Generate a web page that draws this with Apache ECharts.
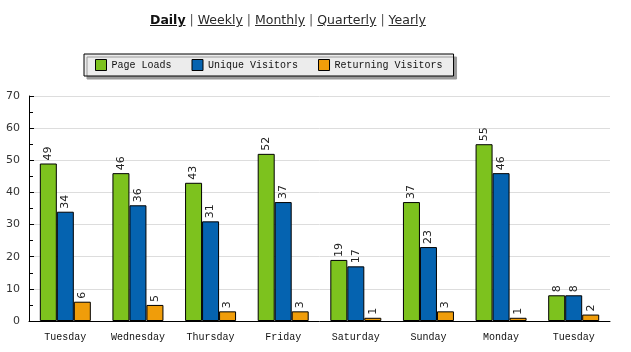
<!DOCTYPE html>
<html>
<head>
<meta charset="utf-8">
<script src="https://cdn.jsdelivr.net/npm/echarts@6/dist/echarts.min.js"></script>
<style>
  html, body { margin: 0; padding: 0; background: #fff; }
  #nav {
    position: absolute; left: 150px; top: 12px;
    font-family: "DejaVu Sans", Verdana, sans-serif; font-size: 12.5px; color: #555;
    white-space: nowrap;
  }
  #nav a { color: #2a2a2a; text-decoration: underline; }
  #nav a.on { font-weight: bold; color: #111; }
  #chart { position: absolute; left: 0; top: 0; width: 631px; height: 352px; }
</style>
</head>
<body>
<div id="chart"></div>
<div id="nav"><a class="on" href="#">Daily</a> | <a href="#">Weekly</a> | <a href="#">Monthly</a> | <a href="#">Quarterly</a> | <a href="#">Yearly</a></div>
<script>
var days = ["Tuesday", "Wednesday", "Thursday", "Friday", "Saturday", "Sunday", "Monday", "Tuesday"]
var pageLoads = [49, 46, 43, 52, 19, 37, 55, 8]
var uniqueVisitors = [34, 36, 31, 37, 17, 23, 46, 8]
var returningVisitors = [6, 5, 3, 3, 1, 3, 1, 2]

var mono = "Liberation Mono"
var sans = "DejaVu Sans"

var chart = echarts.init(document.getElementById("chart"))

// rotated value label above each bar
var barLabel = {
  show: true,
  position: "top",
  rotate: 90,
  align: "left",
  verticalAlign: "middle",
  distance: 3,
  fontFamily: sans,
  fontSize: 11,
  color: "#222"
}

function makeSeries(name, data, color) {
  return {
    name: name,
    type: "bar",
    data: data,
    barWidth: 17,
    barGap: "0%",
    itemStyle: { color: color, borderColor: "#000", borderWidth: 1 },
    label: barLabel,
    emphasis: { disabled: true }
  }
}

var option = {
  animation: false,
  legend: {
    left: 84,
    top: 54,
    itemWidth: 11,
    itemHeight: 11,
    itemGap: 20,
    padding: [5, 11, 5, 11],
    backgroundColor: "#ececec",
    borderColor: "#000",
    borderWidth: 1,
    shadowColor: "#9a9a9a",
    shadowBlur: 0,
    shadowOffsetX: 3,
    shadowOffsetY: 3,
    icon: "rect",
    itemStyle: { borderColor: "#000", borderWidth: 1 },
    textStyle: { fontFamily: mono, fontSize: 10, color: "#111" },
    data: ["Page Loads", "Unique Visitors", "Returning Visitors"]
  },
  grid: { left: 29, right: 21, top: 96, bottom: 31 },
  xAxis: {
    type: "category",
    data: days,
    axisLine: { lineStyle: { color: "#000", width: 1 } },
    axisTick: { inside: true, length: 5, lineStyle: { color: "#000" } },
    axisLabel: { fontFamily: mono, fontSize: 10, color: "#111", margin: 11 }
  },
  yAxis: {
    type: "value",
    min: 0,
    max: 70,
    interval: 10,
    axisLine: { show: true, lineStyle: { color: "#000", width: 1 } },
    axisTick: { show: true, inside: true, length: 5, lineStyle: { color: "#000" } },
    minorTick: { show: true, splitNumber: 2, length: 4, lineStyle: { color: "#000" } },
    splitLine: { lineStyle: { color: "#dddddd" } },
    axisLabel: { fontFamily: sans, fontSize: 11, color: "#333", margin: 9 }
  },
  series: [
    makeSeries("Page Loads", pageLoads, "#7dc21e"),
    makeSeries("Unique Visitors", uniqueVisitors, "#0563b0"),
    makeSeries("Returning Visitors", returningVisitors, "#f09d0a")
  ]
}

chart.setOption(option)
</script>
</body>
</html>
